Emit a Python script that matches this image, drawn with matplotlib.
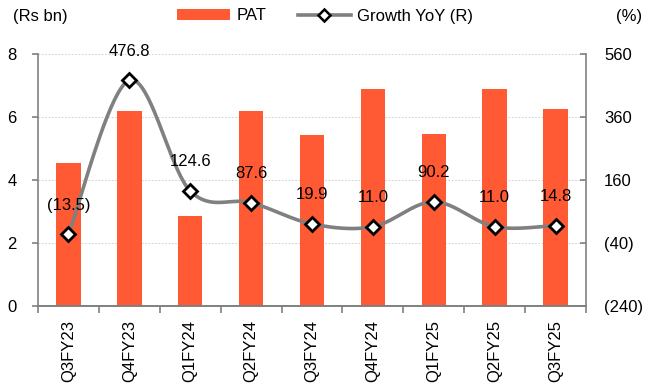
import numpy as np
import matplotlib
matplotlib.use("Agg")
import matplotlib.pyplot as plt
from matplotlib.lines import Line2D
from matplotlib.patches import Patch

plt.rcParams['font.family'] = ['Liberation Sans', 'DejaVu Sans']

categories = ["Q3FY23", "Q4FY23", "Q1FY24", "Q2FY24", "Q3FY24", "Q4FY24", "Q1FY25", "Q2FY25", "Q3FY25"]
pat = [4.53, 6.19, 2.86, 6.19, 5.43, 6.88, 5.45, 6.88, 6.25]
growth = [-13.5, 476.8, 124.6, 87.6, 19.9, 11.0, 90.2, 11.0, 14.8]
left_ticks = [0, 2, 4, 6, 8]
right_ticks = [-240, -40, 160, 360, 560]
right_labels = ["(240)", "(40)", "160", "360", "560"]

def fmt(v):
    return f"({abs(v):.1f})" if v < 0 else f"{v:.1f}"

BAR = "#FF5A33"
GRAY = "#808080"
FS = 12

fig = plt.figure(figsize=(6.6, 3.83), dpi=100)
ax = fig.add_axes([38/660, 1-305.7/383, (586-38)/660, (305.7-54)/383])
ax2 = ax.twinx()

x = np.arange(len(categories))
ax.bar(x, pat, width=0.4, color=BAR, zorder=2)
ax.set_xlim(-0.5, len(categories)-0.5)
ax.set_ylim(0, 8)
ax.set_yticks(left_ticks)
ax.set_yticklabels([str(t) for t in left_ticks], fontsize=FS)
ax.yaxis.grid(True, linestyle=(0, (2, 2)), color="#c8c8c8", linewidth=0.6, zorder=0)
ax.set_axisbelow(True)
ax.set_xticks(x)
ax.set_xticklabels(categories, rotation=90, fontsize=FS)
ax.set_xticks(np.arange(len(categories)+1)-0.5, minor=True)
ax.tick_params(axis='x', which='major', length=0, pad=10)
ax.tick_params(axis='x', which='minor', length=5, color=GRAY, width=1.2)
ax.tick_params(axis='y', length=4.5, color=GRAY, width=1.2, pad=11)

ax2.set_ylim(-240, 560)
ax2.set_yticks(right_ticks)
ax2.set_yticklabels(right_labels, fontsize=FS)
ax2.tick_params(axis='y', direction='in', length=4.5, color=GRAY, width=1.2, pad=13)

for a in (ax, ax2):
    a.spines['top'].set_visible(False)
    for s in ('left', 'right', 'bottom'):
        a.spines[s].set_color(GRAY)
        a.spines[s].set_linewidth(1.2)
ax2.spines['left'].set_visible(False)
ax.spines['right'].set_visible(False)

# smoothed line (Catmull-Rom in display space)
pts = ax2.transData.transform(np.column_stack([x, growth]))
P = np.vstack([pts[0], pts, pts[-1]])
curve = []
for i in range(1, len(P)-2):
    p0, p1, p2, p3 = P[i-1], P[i], P[i+1], P[i+2]
    c1 = p1 + (p2 - p0) / 6
    c2 = p2 - (p3 - p1) / 6
    t = np.linspace(0, 1, 40)[:, None]
    seg = (1-t)**3*p1 + 3*(1-t)**2*t*c1 + 3*(1-t)*t**2*c2 + t**3*p2
    curve.append(seg)
curve = np.vstack(curve)
cd = ax2.transData.inverted().transform(curve)
ax2.plot(cd[:, 0], cd[:, 1], color=GRAY, lw=2.6, zorder=3, solid_capstyle='round')
ax2.plot(x, growth, linestyle='none', marker='D', markersize=7.5, markerfacecolor='white',
         markeredgecolor='black', markeredgewidth=2.0, zorder=4)

for xi, g in zip(x, growth):
    ax2.annotate(fmt(g), (xi, g), xytext=(0, 21), textcoords='offset points',
                 ha='center', va='center', fontsize=FS, zorder=5)

fig.text(13/660, 1-16/383, "(Rs bn)", fontsize=FS, ha='left', va='center')
fig.text(642/660, 1-16/383, "(%)", fontsize=FS, ha='right', va='center')

handles = [Patch(facecolor=BAR, edgecolor='none'),
           Line2D([0], [0], color=GRAY, lw=2.6, marker='D', markersize=6,
                  markerfacecolor='white', markeredgecolor='black', markeredgewidth=1.8)]
fig.legend(handles, ["PAT", "Growth YoY (R)"], loc='center', bbox_to_anchor=(325/660, 1-16/383),
           ncol=2, frameon=False, fontsize=FS, handlelength=3.2, handleheight=0.6,
           handletextpad=0.35, columnspacing=1.9, borderaxespad=0, borderpad=0)

fig.savefig("out.png", dpi=100)
